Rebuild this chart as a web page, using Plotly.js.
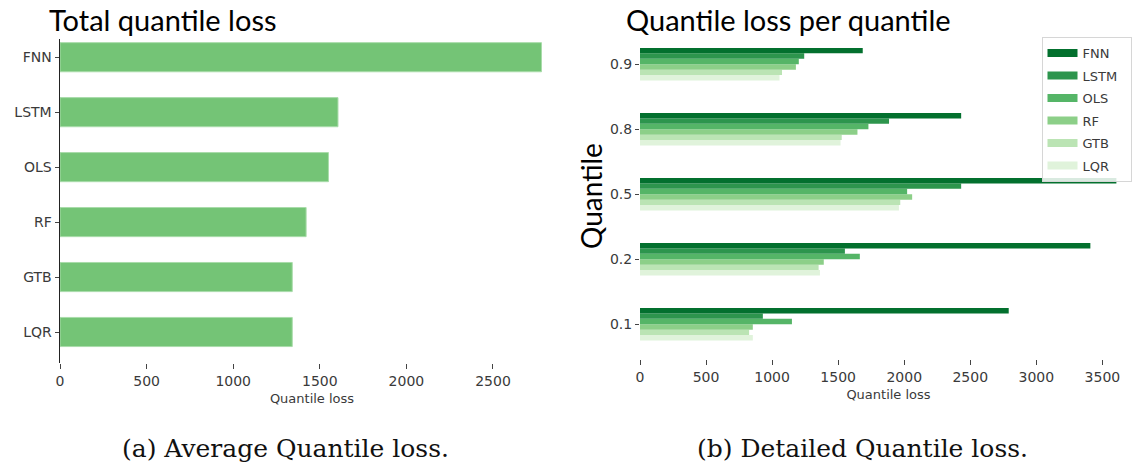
<!DOCTYPE html>
<html>
<head>
<meta charset="utf-8">
<script src="https://cdn.plot.ly/plotly-3.0.1.min.js"></script>
<style>html,body{margin:0;padding:0;background:#fff;}#chart{width:1139px;height:466px;}</style>
</head>
<body>
<div id="chart"></div>
<script>
// ---- data ----
const models = ['FNN', 'LSTM', 'OLS', 'RF', 'GTB', 'LQR'];
const totalLoss = [2780, 1605, 1550, 1421, 1341, 1341];

const quantiles = ['0.1', '0.2', '0.5', '0.8', '0.9'];
const lossFNN  = [2791, 3409, 3606, 2431, 1686];
const lossLSTM = [930, 1551, 2431, 1885, 1243];
const lossOLS  = [1150, 1664, 2022, 1729, 1202];
const lossRF   = [854, 1391, 2060, 1646, 1180];
const lossGTB  = [826, 1352, 1970, 1527, 1075];
const lossLQR  = [854, 1362, 1960, 1518, 1056];

const seriesNames = ['FNN', 'LSTM', 'OLS', 'RF', 'GTB', 'LQR'];
const seriesValues = [lossFNN, lossLSTM, lossOLS, lossRF, lossGTB, lossLQR];
const greens = ['#03702e', '#2d954d', '#55b567', '#8ccf88', '#bbe4b4', '#e0f3db'];

const titleLeft = 'Total quantile loss';
const titleRight = 'Quantile loss per quantile';
const xLabel = 'Quantile loss';
const yLabelRight = 'Quantile';
const captionLeft = '(a) Average Quantile loss.';
const captionRight = '(b) Detailed Quantile loss.';

// ---- geometry helpers (pixels -> paper) ----
const W = 1139, H = 466;
const px = v => v / W;
const py = v => 1 - v / H;

const tickFont = {family: 'DejaVu Sans', size: 14, color: '#3a3a3a'};

const traces = [];
traces.push({
  type: 'bar', orientation: 'h',
  x: totalLoss, y: models,
  xaxis: 'x', yaxis: 'y',
  width: 0.53,
  marker: {color: '#74c476', line: {color: '#a9dcaa', width: 1}},
  showlegend: false, hoverinfo: 'x+y'
});

// grouped bars: add from last to first so FNN sits on top of each group
for (let i = seriesNames.length - 1; i >= 0; i--) {
  traces.push({
    type: 'bar', orientation: 'h',
    x: seriesValues[i], y: quantiles,
    name: seriesNames[i],
    xaxis: 'x2', yaxis: 'y2',
    marker: {color: greens[i], line: {width: 0}},
    showlegend: false
  });
}
// legend entries (matplotlib-like wide swatches); trailing spaces widen the box
for (let i = 0; i < seriesNames.length; i++) {
  traces.push({
    type: 'scatter', mode: 'lines',
    x: [null], y: [null],
    xaxis: 'x2', yaxis: 'y2',
    name: seriesNames[i] + '\u00a0\u00a0',
    legendgroup: 'g' + i,
    line: {color: greens[i], width: 8},
    showlegend: true
  });
}

const layout = {
  width: W, height: H,
  margin: {l: 0, r: 0, t: 0, b: 0},
  paper_bgcolor: '#fff', plot_bgcolor: '#fff',
  barmode: 'group', bargap: 0.5, bargroupgap: 0,
  showlegend: true,
  legend: {
    x: px(1041.5), y: py(37), xanchor: 'left', yanchor: 'top',
    xref: 'paper', yref: 'paper',
    bgcolor: 'rgba(255,255,255,0.85)', bordercolor: '#d6d6d6', borderwidth: 1,
    font: {family: 'DejaVu Sans', size: 13, color: '#3a3a3a'},
    tracegroupgap: 2.6, itemwidth: 30
  },
  xaxis: {
    domain: [px(60), px(564)], range: [0, 2910], anchor: 'y',
    showline: false, showgrid: false, zeroline: false,
    ticks: 'outside', ticklen: 5, tickwidth: 1, tickcolor: '#444',
    tickvals: [0, 500, 1000, 1500, 2000, 2500], tickfont: tickFont,
    title: {text: xLabel, font: {family: 'DejaVu Sans', size: 13, color: '#3a3a3a'}, standoff: 6}
  },
  yaxis: {
    domain: [py(363), py(39.3)], type: 'category',
    categoryorder: 'array', categoryarray: models,
    range: [5.564, -0.326], anchor: 'x',
    showline: true, linecolor: '#222', linewidth: 1.5,
    showgrid: false, zeroline: false,
    ticks: 'outside', ticklen: 4, tickwidth: 1, tickcolor: '#444',
    tickfont: tickFont
  },
  xaxis2: {
    domain: [px(640), px(1137)], range: [0, 3762], anchor: 'y2',
    showline: false, showgrid: false, zeroline: false,
    ticks: 'outside', ticklen: 5, tickwidth: 1, tickcolor: '#444',
    tickvals: [0, 500, 1000, 1500, 2000, 2500, 3000, 3500], tickfont: tickFont,
    title: {text: xLabel, font: {family: 'DejaVu Sans', size: 13, color: '#3a3a3a'}, standoff: 6}
  },
  yaxis2: {
    domain: [py(359), py(31.7)], type: 'category',
    categoryorder: 'array', categoryarray: quantiles,
    range: [-0.534, 4.5], anchor: 'x2',
    showline: false, showgrid: false, zeroline: false,
    ticks: 'outside', ticklen: 4, tickwidth: 1, tickcolor: '#444',
    tickfont: tickFont
  },
  annotations: [
    {text: titleLeft, xref: 'paper', yref: 'paper', x: px(47), y: py(20),
     xanchor: 'left', yanchor: 'middle', showarrow: false,
     font: {family: 'Lato', size: 29, color: '#000'}},
    {text: titleRight, xref: 'paper', yref: 'paper', x: px(624), y: py(20),
     xanchor: 'left', yanchor: 'middle', showarrow: false,
     font: {family: 'Lato', size: 29, color: '#000'}},
    {text: yLabelRight, xref: 'paper', yref: 'paper', x: px(591), y: py(196),
     xanchor: 'center', yanchor: 'middle', showarrow: false, textangle: -90,
     font: {family: 'Lato', size: 28, color: '#000'}},
    {text: captionLeft, xref: 'paper', yref: 'paper', x: px(285), y: py(448),
     xanchor: 'center', yanchor: 'middle', showarrow: false,
     font: {family: 'DejaVu Serif', size: 25, color: '#111'}},
    {text: captionRight, xref: 'paper', yref: 'paper', x: px(862), y: py(448),
     xanchor: 'center', yanchor: 'middle', showarrow: false,
     font: {family: 'DejaVu Serif', size: 25, color: '#111'}}
  ]
};

Plotly.newPlot('chart', traces, layout, {displayModeBar: false, staticPlot: true});
</script>
</body>
</html>
